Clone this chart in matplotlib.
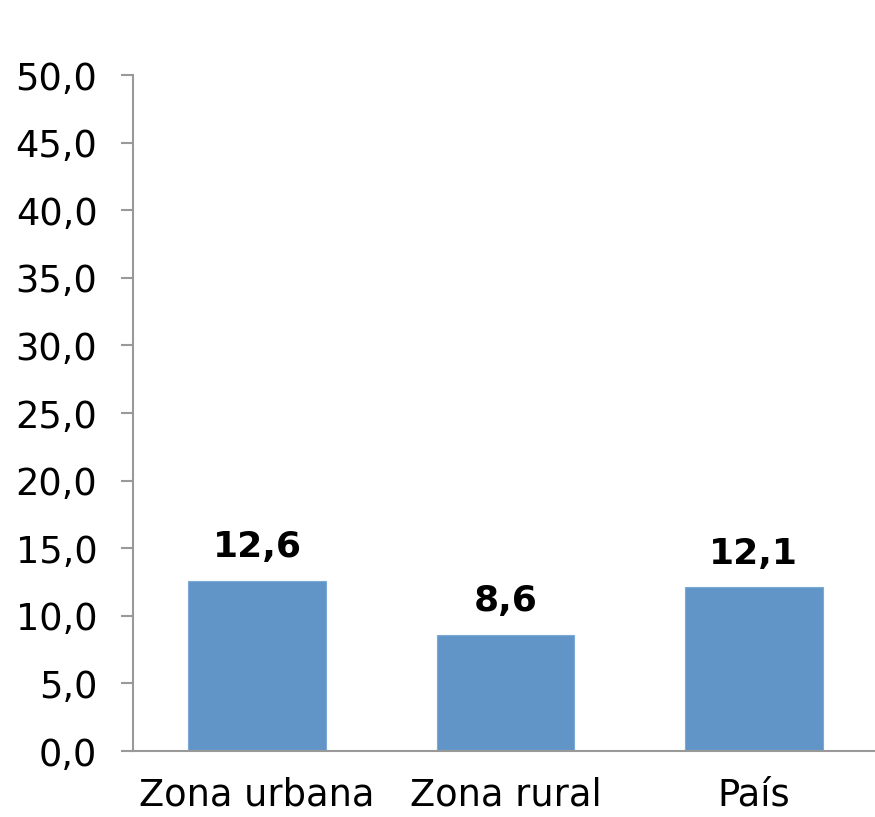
import matplotlib
matplotlib.use("Agg")
import matplotlib.pyplot as plt
from matplotlib.ticker import FuncFormatter, MultipleLocator

categories = ["Zona urbana", "Zona rural", "País"]
values = [12.6, 8.6, 12.1]
value_labels = ["12,6", "8,6", "12,1"]

plt.rcParams['font.family'] = ['DejaVu Sans']

fig = plt.figure(figsize=(8.75, 8.17), dpi=100)
ax = fig.add_axes([133/875, 66/817, 745/875, 676/817])

x = list(range(len(categories)))
ax.bar(x, values, width=0.555, color="#6195C8", edgecolor="#7DA9D6", linewidth=0.8, zorder=2)

for xi, v, lab in zip(x, values, value_labels):
    ax.annotate(lab, (xi, v), xytext=(0, 12), textcoords="offset points",
                ha="center", va="bottom", fontsize=26, fontweight="bold", color="black")

ax.set_xlim(-0.5, 2.5)
ax.set_ylim(0, 50)
ax.yaxis.set_major_locator(MultipleLocator(5))
ax.yaxis.set_major_formatter(FuncFormatter(lambda v, p: f"{v:.1f}".replace(".", ",")))
ax.set_xticks(x)
ax.set_xticklabels(categories)

for s in ["top", "right"]:
    ax.spines[s].set_visible(False)
for s in ["left", "bottom"]:
    ax.spines[s].set_color("#999999")
    ax.spines[s].set_linewidth(1.5)

ax.tick_params(axis="y", length=8.6, width=1.5, color="#999999", pad=17, labelsize=26.5, labelcolor="black")
ax.tick_params(axis="x", length=0, pad=18, labelsize=26.5, labelcolor="black")

fig.savefig("out.png", dpi=100)
